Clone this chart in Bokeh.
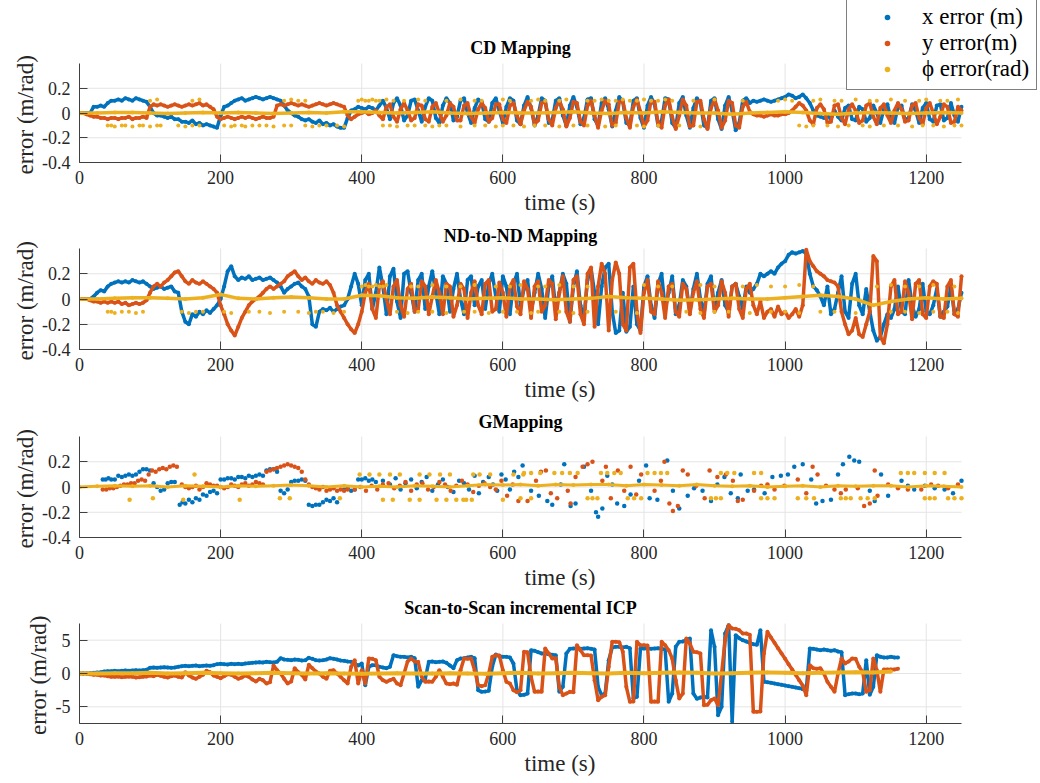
import numpy as np
from bokeh.plotting import figure
from bokeh.layouts import column
from bokeh.models import Range1d, FixedTicker, Legend, LegendItem, Label, Title
from bokeh.embed import file_html
from bokeh.resources import INLINE

BLUE = "#0072BD"
RED = "#D95319"
YEL = "#EDB120"
FONT = "Liberation Serif"
GRID = "#e4e4e4"

x_ticks = [0, 200, 400, 600, 800, 1000, 1200]
x_max = 1250

# ---------------- Panel 1: CD Mapping (values every 5 s) ----------------
cd_x = [
    0, 0, 0, 0, 0.05, 0.05, 0.06, 0.05, 0.08, 0.10,
    0.10, 0.11, 0.10, 0.12, 0.11, 0.10, 0.12, 0.11, 0.10, 0.09,
    0.05, 0.0, -0.02, -0.02, -0.03, -0.04, -0.03, -0.05, -0.05, -0.07,
    -0.07, -0.08, -0.06, -0.09, -0.08, -0.10, -0.09, -0.10, -0.11, -0.12,
    -0.02, 0.05, 0.06, 0.08, 0.10, 0.11, 0.12, 0.10, 0.11, 0.12,
    0.13, 0.12, 0.11, 0.12, 0.13, 0.12, 0.11, 0.10, 0.06, 0.02,
    0.0, -0.02, -0.03, -0.05, -0.06, -0.05, -0.07, -0.08, -0.06, -0.09,
    -0.08, -0.10, -0.09, -0.11, -0.12, -0.12, -0.04, 0.02, 0.03, 0.05,
    0.04, 0.03, 0.05, 0.04, 0.02, 0.06, 0.10, 0.04, -0.05, 0.08,
    0.12, 0.06, -0.06, -0.02, 0.10, 0.11, 0.02, -0.07, 0.05, 0.12,
    0.10, -0.04, -0.08, 0.06, 0.12, 0.08, -0.06, -0.03, 0.10, 0.12,
    0.00, -0.08, 0.04, 0.11, 0.09, -0.05, -0.07, 0.08, 0.12, 0.02,
    -0.08, 0.05, 0.12, 0.10, -0.06, -0.09, 0.06, 0.13, 0.04, -0.10,
    -0.02, 0.12, 0.10, -0.08, -0.06, 0.10, 0.12, -0.02, -0.10, 0.06,
    0.13, 0.05, -0.09, -0.04, 0.11, 0.12, -0.05, -0.10, 0.08, 0.12,
    0.03, -0.11, 0.02, 0.13, 0.09, -0.08, -0.10, 0.10, 0.12, -0.04,
    -0.12, 0.06, 0.13, 0.07, -0.10, -0.06, 0.12, 0.11, -0.08, -0.12,
    0.08, 0.13, -0.02, -0.12, 0.04, 0.12, 0.08, -0.10, -0.12, 0.10,
    0.12, -0.05, -0.13, 0.06, 0.13, 0.02, -0.14, -0.08, 0.10, 0.12,
    0.08, 0.10, 0.09, 0.10, 0.11, 0.10, 0.09, 0.10, 0.11, 0.12,
    0.13, 0.15, 0.14, 0.12, 0.13, 0.15, 0.12, 0.08, 0.02, -0.02,
    -0.03, -0.04, -0.02, -0.05, 0.02, -0.03, -0.06, 0.04, 0.06, -0.05,
    -0.06, 0.05, 0.03, -0.07, -0.04, 0.06, 0.00, -0.08, 0.03, 0.07,
    -0.05, -0.08, 0.05, 0.06, -0.06, -0.04, 0.07, 0.02, -0.08, 0.04,
    0.08, -0.05, -0.07, 0.06, 0.07, -0.06, -0.04, 0.08, -0.02, -0.07,
    0.05,
]
cd_y = [
    0, 0, -0.01, -0.02, -0.03, -0.03, -0.04, -0.04, -0.05, -0.04,
    -0.04, -0.05, -0.04, -0.04, -0.03, -0.05, -0.04, -0.04, -0.03, -0.04,
    0.05, 0.07, 0.06, 0.07, 0.06, 0.05, 0.06, 0.07, 0.06, 0.05,
    0.06, 0.07, 0.06, 0.07, 0.08, 0.06, 0.07, 0.05, 0.03, -0.03,
    -0.05, -0.04, -0.03, -0.04, -0.05, -0.04, -0.03, -0.04, -0.03, -0.04,
    -0.05, -0.04, -0.03, -0.04, -0.04, -0.03, 0.06, 0.07, 0.06, 0.07,
    0.08, 0.07, 0.06, 0.07, 0.06, 0.05, 0.06, 0.07, 0.08, 0.07,
    0.06, 0.07, 0.08, 0.07, 0.06, 0.05, -0.02, -0.05, -0.03, -0.01,
    0.00, 0.01, -0.01, 0.00, 0.02, -0.02, -0.05, 0.05, 0.07, -0.03,
    -0.07, 0.03, 0.08, 0.02, -0.06, -0.04, 0.07, 0.06, -0.05, -0.07,
    0.05, 0.08, 0.00, -0.07, -0.02, 0.08, 0.05, -0.06, -0.06, 0.06,
    0.08, -0.03, -0.08, 0.03, 0.08, 0.04, -0.07, -0.04, 0.07, 0.07,
    -0.05, -0.08, 0.06, 0.08, -0.02, -0.09, 0.02, 0.09, 0.05, -0.09,
    -0.06, 0.08, 0.09, -0.05, -0.10, 0.04, 0.10, 0.03, -0.11, -0.04,
    0.09, 0.08, -0.07, -0.10, 0.06, 0.10, -0.02, -0.12, 0.02, 0.10,
    0.07, -0.10, -0.08, 0.09, 0.10, -0.04, -0.12, 0.05, 0.11, 0.01,
    -0.11, -0.06, 0.10, 0.09, -0.08, -0.12, 0.06, 0.11, -0.03, -0.13,
    -0.02, 0.11, 0.06, -0.11, -0.10, 0.09, 0.10, -0.05, -0.13, 0.04,
    0.11, 0.02, -0.12, -0.06, 0.10, 0.08, -0.10, -0.12, 0.05, 0.09,
    0.01, -0.01, -0.02, -0.02, -0.03, -0.02, -0.01, -0.02, -0.02, -0.01,
    -0.01, 0.00, 0.02, 0.05, 0.08, 0.06, 0.02, -0.06, -0.09, 0.04,
    0.07, 0.03, -0.08, -0.07, 0.06, 0.07, -0.04, -0.09, 0.03, 0.07,
    0.02, -0.08, -0.06, 0.06, 0.08, -0.03, -0.09, 0.04, 0.07, -0.02,
    -0.08, 0.02, 0.08, 0.03, -0.07, -0.06, 0.06, 0.08, -0.04, -0.09,
    0.04, 0.08, 0.00, -0.09, -0.03, 0.07, 0.05, -0.08, -0.07, 0.05,
    0.02,
]
# phi main trace every 25 s
cd_phi = [0, 0, 0.005, 0.005, 0.0, -0.005, 0.0, 0.005, 0.0, 0.005,
          0.0, -0.005, 0.0, 0.005, 0.0, 0.01, 0.01, 0.005, 0.0, 0.005,
          0.01, 0.0, -0.005, 0.0, 0.005, 0.0, 0.0, 0.005, 0.01, 0.0,
          -0.005, 0.005, 0.0, 0.01, 0.005, 0.0, 0.0, -0.01, 0.0, 0.005,
          0.01, 0.005, -0.005, -0.01, 0.0, 0.005, 0.0, -0.005, 0.0, 0.005, 0.0]
cd_phi_band_t = [40, 45, 50, 60, 65, 75, 85, 90, 100, 110, 115, 140, 150, 160, 170, 205, 215, 220, 230, 235,
                 245, 255, 265, 275, 290, 300, 320, 330, 340, 350, 365, 375, 430, 440, 450, 465, 475, 490, 500, 510,
                 520, 540, 560, 575, 590, 600, 615, 630, 645, 660, 680, 700, 720, 745, 760, 790, 800, 820, 850, 880,
                 1020, 1030, 1040, 1060, 1075, 1090, 1110, 1120, 1140, 1160, 1180, 1195, 1210, 1225, 1240, 1250,
                 100, 110, 160, 170, 290, 300, 310, 320, 395, 400, 405, 410, 415, 420, 425, 435, 445, 460, 480, 490,
                 520, 540, 560, 570, 600, 610, 640, 650, 660, 680, 690, 720, 730, 740, 750, 760, 770, 780, 790, 800,
                 810, 820, 830, 840, 870, 900, 940, 990, 1000, 1010, 1040, 1050, 1070, 1080, 1100, 1120, 1130, 1150,
                 1170, 1190, 1200, 1220, 1230, 1245]
cd_phi_band_v = [-0.10, -0.10, -0.11, -0.10, -0.10, -0.11, -0.10, -0.10, -0.11, -0.10, -0.10, -0.10, -0.11, -0.10, -0.10, -0.10, -0.11, -0.10, -0.10, -0.11,
                 -0.10, -0.10, -0.10, -0.11, -0.10, -0.10, -0.10, -0.11, -0.10, -0.10, -0.10, -0.11, -0.10, -0.10, -0.11, -0.10, -0.10, -0.10, -0.11, -0.10,
                 -0.10, -0.11, -0.10, -0.10, -0.11, -0.10, -0.10, -0.11, -0.10, -0.10, -0.11, -0.10, -0.10, -0.11, -0.10, -0.10, -0.11, -0.10, -0.10, -0.11,
                 -0.10, -0.11, -0.10, -0.10, -0.11, -0.10, -0.10, -0.11, -0.10, -0.10, -0.11, -0.10, -0.10, -0.11, -0.10, -0.10,
                 0.10, 0.11, 0.10, 0.11, 0.10, 0.11, 0.10, 0.10, 0.10, 0.11, 0.10, 0.10, 0.11, 0.10, 0.10, 0.11, 0.10, 0.10, 0.11, 0.10,
                 0.10, 0.11, 0.10, 0.10, 0.11, 0.10, 0.10, 0.11, 0.10, 0.10, 0.11, 0.10, 0.10, 0.11, 0.10, 0.10, 0.11, 0.10, 0.10, 0.11,
                 0.10, 0.10, 0.11, 0.10, 0.10, 0.11, 0.10, 0.10, 0.11, 0.10, 0.10, 0.11, 0.10, 0.10, 0.11, 0.10, 0.10, 0.11,
                 0.10, 0.10, 0.11, 0.10, 0.10, 0.11]

# ---------------- Panel 2: ND-to-ND Mapping (values every 5 s) ----------------
nd_x = [
    0, 0, 0, 0, 0.02, 0.05, 0.07, 0.06, 0.10, 0.12,
    0.13, 0.14, 0.13, 0.14, 0.13, 0.15, 0.14, 0.13, 0.14, 0.12,
    0.10, 0.08, 0.09, 0.10, 0.08, 0.09, 0.10, 0.06, 0.05, -0.10,
    -0.18, -0.20, -0.12, -0.14, -0.10, -0.12, -0.09, -0.11, -0.08, -0.05,
    0.00, 0.10, 0.22, 0.26, 0.18, 0.15, 0.17, 0.16, 0.18, 0.15,
    0.16, 0.17, 0.15, 0.16, 0.17, 0.15, 0.13, 0.10, 0.05, 0.08,
    0.10, 0.12, 0.13, 0.10, 0.08, 0.02, -0.20, -0.22, -0.10, -0.08,
    -0.09, -0.07, -0.10, -0.08, -0.06, -0.05, 0.00, 0.10, 0.20, 0.12,
    -0.05, 0.15, 0.20, -0.08, 0.05, 0.25, 0.10, -0.12, 0.18, 0.24,
    -0.02, -0.15, 0.20, 0.22, 0.05, -0.10, 0.15, 0.20, -0.08, 0.10,
    0.22, 0.05, -0.12, 0.18, 0.12, -0.10, 0.08, 0.20, 0.00, -0.12,
    0.15, 0.18, -0.05, 0.10, 0.15, -0.08, 0.12, 0.20, 0.02, -0.10,
    0.18, 0.10, -0.12, 0.12, 0.20, -0.05, 0.08, 0.15, -0.10, 0.05,
    0.20, 0.08, -0.15, 0.10, 0.18, -0.08, 0.05, 0.20, 0.12, -0.18,
    0.10, 0.22, -0.05, -0.15, 0.15, 0.24, 0.05, -0.20, 0.10, 0.25,
    0.28, -0.10, -0.27, -0.25, 0.05, -0.26, -0.22, 0.10, -0.20, -0.25,
    0.10, 0.18, -0.05, -0.15, 0.12, 0.20, -0.08, 0.05, 0.18, -0.12,
    -0.05, 0.15, 0.10, -0.10, 0.08, 0.20, 0.00, -0.12, 0.12, 0.18,
    -0.08, 0.05, 0.15, -0.05, -0.10, 0.10, 0.12, 0.02, -0.08, 0.10,
    0.05, 0.08, 0.12, 0.20, 0.18, 0.20, 0.22, 0.20, 0.25, 0.28,
    0.30, 0.35, 0.37, 0.36, 0.37, 0.38, 0.36, 0.20, 0.10, 0.07,
    0.02, -0.05, 0.10, -0.12, -0.08, 0.05, 0.18, -0.10, -0.15, 0.12,
    0.20, -0.05, -0.12, 0.08, -0.10, -0.25, -0.33, -0.30, -0.20, -0.12,
    -0.15, -0.08, 0.10, -0.10, -0.12, 0.15, -0.05, -0.14, -0.08, 0.12,
    -0.10, -0.12, -0.05, 0.08, -0.14, -0.10, -0.06, 0.10, -0.12, -0.08,
    0.05,
]
nd_y = [
    0, 0, 0, -0.01, -0.02, -0.02, -0.03, -0.02, -0.03, -0.02,
    -0.03, -0.02, -0.04, -0.03, -0.05, -0.04, -0.03, -0.04, -0.03, -0.01,
    0.05, 0.10, 0.12, 0.10, 0.13, 0.15, 0.18, 0.21, 0.22, 0.18,
    0.14, 0.12, 0.15, 0.13, 0.12, 0.14, 0.12, 0.10, 0.08, 0.05,
    -0.05, -0.12, -0.20, -0.25, -0.29, -0.22, -0.15, -0.10, -0.05, -0.02,
    0.00, 0.02, 0.05, 0.08, 0.10, 0.08, 0.10, 0.12, 0.14, 0.18,
    0.20, 0.22, 0.18, 0.15, 0.17, 0.14, 0.12, 0.15, 0.13, 0.12,
    0.14, 0.11, 0.05, -0.05, -0.10, -0.15, -0.20, -0.24, -0.27, -0.20,
    -0.10, 0.05, 0.12, -0.08, -0.15, 0.10, 0.14, 0.00, -0.12, 0.10,
    0.15, -0.05, -0.14, 0.08, 0.12, -0.10, -0.08, 0.14, 0.10, -0.12,
    0.02, 0.15, 0.05, -0.12, 0.12, 0.10, -0.14, -0.05, 0.12, 0.08,
    -0.15, 0.05, 0.14, -0.05, -0.12, 0.12, 0.15, -0.10, -0.08, 0.13,
    0.05, -0.14, 0.10, 0.15, -0.06, -0.12, 0.14, 0.08, -0.15, 0.10,
    0.14, -0.10, -0.05, 0.15, 0.12, -0.16, 0.05, 0.18, -0.10, -0.18,
    0.15, 0.18, -0.12, -0.20, 0.20, 0.25, -0.22, 0.10, 0.28, 0.20,
    -0.25, 0.15, 0.29, 0.20, -0.20, -0.25, 0.25, 0.28, -0.10, -0.27,
    0.05, 0.15, -0.10, -0.12, 0.14, 0.05, -0.15, 0.10, 0.12, -0.10,
    -0.14, 0.12, 0.08, -0.12, 0.05, 0.14, -0.08, -0.15, 0.10, 0.12,
    -0.10, -0.05, 0.14, 0.05, -0.14, 0.10, 0.12, -0.08, -0.15, 0.08,
    0.12, -0.05, -0.12, -0.02, -0.15, -0.10, -0.08, -0.14, -0.06, -0.12,
    -0.10, -0.15, -0.12, -0.08, -0.14, -0.05, 0.39, 0.30, 0.26, 0.22,
    0.20, 0.18, 0.15, 0.14, 0.13, 0.10, -0.10, -0.20, -0.28, -0.25,
    -0.15, -0.28, -0.30, -0.20, -0.10, 0.34, 0.30, -0.30, -0.35, -0.20,
    0.10, 0.15, -0.12, -0.10, 0.14, 0.05, -0.16, 0.12, 0.15, -0.12,
    -0.15, 0.10, 0.14, 0.12, -0.14, -0.15, 0.10, 0.15, -0.12, -0.14,
    0.18,
]
nd_phi = [0, 0, 0.005, 0.01, 0.01, 0.005, 0.0, 0.01, 0.035, 0.005,
          0.0, 0.01, 0.015, 0.01, 0.0, 0.0, 0.03, 0.025, 0.01, 0.005,
          0.015, 0.01, 0.0, 0.005, 0.01, 0.0, 0.0, -0.005, 0.0, 0.005,
          0.02, 0.01, 0.005, 0.0, -0.01, -0.005, 0.0, 0.005, 0.0, 0.0,
          0.01, 0.02, 0.03, 0.02, 0.0, -0.05, -0.02, 0.0, 0.01, 0.0, 0.005]
nd_phi_band_t = [40, 45, 50, 60, 70, 80, 90, 145, 155, 165, 175, 205, 215, 240, 255, 270, 290, 310, 325, 335,
                 345, 360, 375, 450, 465, 480, 500, 520, 545, 560, 580, 600, 620, 640, 650, 680, 700, 720, 760, 790,
                 860, 880, 900, 920, 950, 980, 1000, 1020, 1050, 1070, 1100, 1150, 1170, 1190, 1210, 1230, 1245,
                 400, 405, 410, 415, 420, 425, 430, 435, 470, 480, 500, 520, 540, 560, 590, 610, 625, 650, 660, 680,
                 700, 720, 800, 820, 840, 880, 900, 940, 960, 980, 1000, 1020, 1040, 1130, 1150, 1170, 1190, 1210, 1240]
nd_phi_band_v = [-0.10, -0.10, -0.11, -0.10, -0.10, -0.11, -0.10, -0.10, -0.11, -0.10, -0.10, -0.10, -0.11, -0.10, -0.10, -0.11, -0.10, -0.10, -0.11, -0.10,
                 -0.10, -0.11, -0.10, -0.10, -0.11, -0.10, -0.10, -0.11, -0.10, -0.10, -0.11, -0.10, -0.10, -0.11, -0.10, -0.10, -0.11, -0.10, -0.10, -0.11,
                 -0.10, -0.11, -0.10, -0.10, -0.11, -0.10, -0.10, -0.11, -0.10, -0.10, -0.11, -0.10, -0.10, -0.11, -0.10, -0.10, -0.11,
                 0.10, 0.11, 0.10, 0.10, 0.11, 0.10, 0.10, 0.11, 0.10, 0.10, 0.11, 0.10, 0.10, 0.11, 0.10, 0.10, 0.11, 0.10, 0.10, 0.11,
                 0.10, 0.10, 0.11, 0.10, 0.10, 0.11, 0.10, 0.10, 0.11, 0.10, 0.10, 0.11, 0.10, 0.10, 0.11, 0.10, 0.10, 0.11, 0.10]

# ---------------- Panel 3: GMapping (individual points) ----------------
gm_x_t = [33, 37, 41, 45, 50, 55, 60, 65, 70, 75, 80, 85, 90, 95, 100, 105, 110, 115, 120, 125,
          130, 135, 142, 146, 150, 155, 160, 165, 170, 175, 180, 185, 190, 195, 200, 205, 210, 215, 220, 225,
          230, 235, 240, 245, 250, 255, 260, 265, 270, 275, 280, 285, 290, 295, 300, 305, 310, 315, 320, 325,
          330, 335, 340, 345, 350, 355, 360, 365, 375, 380, 385, 390, 395, 400, 405, 410, 415, 420, 430, 440,
          448, 455, 462, 470, 478, 485, 492, 500, 508, 515, 522, 530, 538, 545, 552, 560, 566, 572, 580, 586,
          592, 598, 604, 610, 616, 622, 628, 640, 651, 663, 670, 682, 687, 696, 703, 715, 725, 732, 735, 741,
          748, 755, 762, 772, 781, 793, 803, 808, 819, 833, 841, 850, 862, 871, 883, 895, 904, 914, 923, 933,
          937, 947, 956, 971, 982, 994, 1004, 1013, 1025, 1037, 1044, 1053, 1065, 1075, 1082, 1091, 1098, 1105, 1120, 1127,
          1136, 1146, 1165, 1174, 1183, 1198, 1212, 1226, 1238, 1250]
gm_x_v = [0.06, 0.06, 0.07, 0.06, 0.06, 0.09, 0.08, 0.09, 0.10, 0.09, 0.10, 0.12, 0.14, 0.14, 0.13, 0.03, 0.0, -0.03, -0.02, 0.03,
          0.04, 0.04, -0.14, -0.12, -0.13, -0.10, -0.12, -0.09, -0.10, -0.06, -0.07, -0.04, -0.03, -0.05, 0.06, 0.06, 0.07, 0.07, 0.06, 0.08,
          0.08, 0.07, 0.09, 0.08, 0.09, 0.10, 0.09, 0.13, 0.14, 0.14, 0.12, -0.03, -0.05, -0.02, 0.04, 0.05, 0.05, 0.06, 0.05, -0.14,
          -0.15, -0.14, -0.14, -0.12, -0.10, -0.11, -0.09, -0.12, -0.02, -0.01, -0.03, -0.02, 0.06, 0.06, 0.07, 0.05, 0.06, 0.04, 0.05, 0.02,
          0.07, -0.02, 0.03, 0.06, -0.01, 0.04, 0.08, -0.03, 0.02, 0.06, 0.00, -0.04, 0.05, 0.03, -0.02, 0.09, -0.05, 0.04, 0.08, 0.02,
          -0.03, 0.10, 0.06, -0.02, 0.12, 0.08, 0.17, -0.03, -0.07, -0.11, -0.14, 0.02, 0.18, -0.15, -0.13, 0.16, -0.03, -0.20, -0.235, -0.17,
          0.09, 0.02, -0.13, -0.15, -0.06, 0.05, 0.17, -0.09, -0.10, 0.21, -0.03, -0.17, -0.07, -0.01, -0.03, -0.11, 0.02, 0.08, -0.05, -0.09,
          0.10, -0.03, -0.02, -0.05, 0.08, 0.09, 0.10, 0.16, 0.18, 0.06, -0.13, -0.11, -0.10, 0.10, 0.18, 0.24, 0.21, 0.20, -0.03, -0.11,
          0.10, -0.07, 0.05, 0.01, -0.02, 0.01, -0.01, -0.02, -0.05, 0.05]
gm_y_t = [33, 38, 43, 48, 53, 58, 63, 68, 73, 78, 83, 88, 93, 98, 103, 108, 113, 118, 123, 128,
          133, 138, 145, 150, 155, 160, 165, 170, 175, 180, 185, 190, 195, 200, 205, 210, 215, 220, 225, 230,
          235, 240, 245, 250, 255, 260, 265, 270, 275, 280, 285, 290, 295, 300, 305, 310, 315, 320, 325, 330,
          335, 340, 345, 350, 355, 360, 365, 370, 375, 380, 390, 398, 406, 414, 422, 430, 438, 446, 454, 462,
          470, 478, 486, 494, 502, 510, 518, 526, 534, 542, 550, 558, 566, 574, 582, 590, 598, 606, 614, 622,
          635, 647, 654, 661, 668, 677, 692, 696, 703, 713, 720, 727, 741, 746, 753, 763, 772, 781, 789, 796,
          815, 824, 829, 836, 841, 848, 855, 862, 874, 886, 893, 904, 916, 926, 933, 940, 956, 966, 975, 985,
          999, 1018, 1030, 1039, 1046, 1058, 1070, 1079, 1086, 1103, 1112, 1120, 1127, 1131, 1146, 1160, 1174, 1193, 1207, 1217,
          1231, 1245]
gm_y_v = [-0.02, -0.02, -0.01, -0.01, 0.0, 0.01, 0.02, 0.02, 0.03, 0.03, 0.05, 0.06, 0.05, 0.10, 0.13, 0.12, 0.14, 0.15, 0.14, 0.16,
          0.17, 0.16, 0.02, 0.0, -0.01, 0.0, 0.01, -0.02, 0.0, 0.03, 0.02, 0.01, 0.01, 0.0, -0.01, 0.0, 0.02, 0.01, 0.0, 0.02,
          0.03, 0.01, 0.02, 0.04, 0.03, 0.02, 0.12, 0.13, 0.14, 0.15, 0.16, 0.17, 0.18, 0.17, 0.16, 0.15, 0.12, 0.06, 0.02, 0.0,
          -0.01, -0.02, 0.0, -0.03, -0.02, -0.01, -0.03, -0.02, -0.03, -0.02, -0.02, 0.0, -0.03, 0.01, -0.02, 0.02, 0.03, -0.01, 0.01, 0.04,
          -0.03, 0.02, 0.03, -0.02, 0.0, 0.04, 0.02, -0.03, 0.01, 0.05, 0.02, -0.04, 0.01, 0.03, 0.0, -0.02, 0.05, -0.07, 0.02, -0.11,
          -0.11, 0.05, 0.12, 0.13, -0.05, -0.09, -0.03, -0.13, 0.08, 0.16, 0.18, 0.20, 0.05, 0.16, -0.09, 0.13, -0.03, 0.16, -0.06, 0.10,
          -0.03, 0.05, 0.20, -0.13, -0.19, -0.15, 0.13, 0.10, 0.01, -0.09, 0.13, 0.08, 0.10, 0.05, -0.11, -0.10, -0.03, 0.01, 0.02, -0.02,
          0.01, 0.06, -0.05, 0.16, 0.10, 0.01, -0.02, -0.05, -0.02, -0.01, -0.15, -0.13, 0.13, -0.07, 0.02, -0.01, -0.02, -0.02, 0.02, 0.01,
          -0.01, 0.02]
gm_phi = [0, 0.005, 0.01, 0.005, 0.01, 0.0, 0.01, 0.005, 0.0, 0.01,
          0.005, 0.01, 0.015, 0.01, 0.0, 0.01, 0.0, 0.005, 0.0, 0.01,
          0.005, 0.0, 0.01, 0.02, 0.015, 0.02, 0.01, 0.02, 0.015, 0.02,
          0.02, 0.01, 0.02, 0.015, 0.01, 0.02, 0.01, 0.005, 0.01, 0.0,
          0.005, 0.01, 0.0, 0.01, 0.005, 0.01, 0.01, 0.0, 0.01, 0.005, 0.0]
gm_phi_band_t = [71, 104, 147, 163, 227, 284, 298, 369,
                 397, 411, 425, 440, 454, 482, 496, 511, 525, 558, 567, 582, 615, 629, 630, 640, 653, 673, 684, 695, 706, 739,
                 748, 758, 767, 805, 815, 824, 833, 909, 918, 928, 956, 966, 1164, 1174, 1183, 1198, 1212, 1226,
                 430, 444, 468, 482, 506, 520, 534, 544, 548, 556, 600, 625, 640, 720, 727, 734, 777, 786, 796, 895,
                 902, 909, 966, 975, 985, 1018, 1030, 1041, 1079, 1086, 1093, 1107, 1117, 1127, 1198, 1205, 1212, 1231, 1240, 1250]
gm_phi_band_v = [-0.10, -0.09, -0.10, 0.10, -0.10, -0.09, -0.09, -0.09,
                 0.10, 0.10, 0.10, 0.10, 0.10, 0.10, 0.10, 0.10, 0.10, 0.10, 0.10, 0.10, 0.10, 0.10, 0.11, 0.11, 0.11, 0.11, 0.11, 0.11, 0.11, 0.11,
                 0.11, 0.11, 0.11, 0.11, 0.11, 0.11, 0.11, 0.11, 0.11, 0.11, 0.11, 0.11, 0.11, 0.11, 0.11, 0.11, 0.11, 0.11,
                 -0.10, -0.10, -0.10, -0.10, -0.10, -0.10, -0.10, -0.10, -0.10, -0.10, -0.10, -0.09, -0.09, -0.09, -0.09, -0.09, -0.09, -0.09, -0.09, -0.09,
                 -0.09, -0.09, -0.09, -0.09, -0.09, -0.09, -0.09, -0.09, -0.09, -0.09, -0.09, -0.09, -0.09, -0.09, -0.09, -0.09, -0.09, -0.09, -0.09, -0.09]

# ---------------- Panel 4: Scan-to-Scan incremental ICP (values every 5 s) ----------------
icp_x = [
    0, 0, 0, 0.05, 0.1, 0.15, 0.2, 0.3, 0.35, 0.35,
    0.4, 0.35, 0.4, 0.45, 0.4, 0.45, 0.5, 0.45, 0.5, 0.55,
    0.85, 0.9, 0.85, 0.9, 0.95, 0.9, 0.85, 0.9, 1.0, 1.1,
    1.15, 1.1, 1.15, 1.2, 1.1, 1.15, 1.2, 1.15, 1.25, 1.4,
    1.45, 1.4, 1.35, 1.45, 1.4, 1.45, 1.4, 1.5, 1.55, 1.6,
    1.65, 1.7, 1.65, 1.75, 1.7, 1.65, 1.75, 2.3, 2.1, 2.05,
    2.0, 2.1, 2.05, 1.95, 2.0, 2.35, 2.2, 2.0, 1.95, 2.0,
    2.1, 2.3, 2.2, 2.1, 1.95, 1.9, 1.8, 1.75, 1.5, 1.2,
    1.5, -1.75, 1.0, 1.25, 1.25, 1.0, 0.9, 0.8, 1.0, 2.75,
    2.6, 2.5, 2.5, 2.4, 2.5, 2.3, -2.0, -1.0, -0.8, 1.75,
    1.8, 1.7, 1.75, 1.8, 1.6, 1.2, 0.8, 2.0, 2.25, 2.3,
    2.4, 2.5, 2.3, -2.5, -2.75, -2.7, -2.6, 1.0, 2.85, 2.6,
    2.5, 2.5, 2.4, 1.5, -2.5, -3.25, -3.2, -3.0, 3.5, 3.4,
    3.2, 3.0, 3.0, 2.9, 2.8, 2.75, -2.75, -2.0, 3.0, 3.7,
    3.75, 3.8, 3.7, 3.75, 3.8, 3.7, 3.6, -2.0, -3.25, -3.0,
    2.0, 3.9, 4.0, 4.0, 3.9, 4.0, 3.8, -3.75, -3.5, 3.7,
    3.75, 3.8, 3.7, 3.75, 3.8, 3.7, 3.6, -4.25, -3.0, 4.0,
    4.75, 4.8, 5.0, 5.25, -3.0, -3.8, -3.6, -3.5, -3.6, 6.5,
    4.0, -6.25, -5.0, 6.0, 7.25, -7.25, 5.75, 5.3, 5.0, 4.8,
    4.6, 4.4, 4.3, 6.5, -1.25, -1.3, -1.4, -1.5, -1.6, -1.7,
    -1.8, -1.9, -2.0, -2.1, -2.2, -2.35, -2.5, 3.75, 3.7, 3.6,
    3.5, 3.6, 3.5, 3.4, 3.5, 3.3, 3.2, -3.25, -3.1, -3.0,
    -3.0, -3.1, -3.0, 2.0, -3.2, -2.0, 2.75, 2.5, 2.4, 2.4,
    2.5, 2.4, 2.4,
]
icp_y = [
    0, 0, 0, -0.1, -0.2, -0.2, -0.3, -0.3, -0.4, -0.5,
    -0.5, -0.45, -0.55, -0.5, -0.45, -0.5, -0.6, -0.55, -0.5, -0.45,
    -0.3, -0.4, -0.2, -0.35, -0.5, -0.6, -0.4, -0.3, -0.5, -0.6,
    0.2, -0.3, -0.6, -0.8, -0.5, -0.2, 0.4, 0.2, -0.3, -0.5,
    -0.7, -0.4, -0.1, -0.2, -0.5, -0.8, -0.6, -0.3, -0.5, -0.9,
    -1.2, -0.8, -1.0, -1.5, -1.3, 1.2, 0.5, 0.0, -0.8, -1.5,
    -1.2, 0.8, 0.2, -0.2, -0.9, 1.3, 0.8, 0.3, 0.0, -0.5,
    -0.8, 0.4, 0.5, 0.0, -0.5, -1.0, -1.5, 1.0, 2.0, -1.5,
    0.5, -1.5, 2.25, 2.2, 2.0, -0.5, -1.0, -1.25, -1.0, -0.8,
    -1.5, -1.75, 0.0, 1.8, 2.25, 1.8, 1.75, -0.5, -1.25, -1.2,
    -1.25, -0.5, 0.5, -0.5, -1.5, -1.6, -1.5, -1.7, 0.5, 2.25,
    2.2, 2.25, 0.5, -1.75, -1.9, -1.75, 0.0, 2.5, 2.75, 2.7,
    0.5, -1.25, -1.5, -2.5, -2.8, -2.5, 3.25, 3.2, -0.5, -2.75,
    -2.7, -2.75, 3.75, 3.0, 2.25, 2.3, -2.0, -3.25, -3.0, -2.75,
    -2.8, 4.25, 3.5, 2.75, 2.75, 2.7, -1.0, -4.0, -3.5, -3.25,
    1.0, 4.75, 4.75, 4.7, 3.25, -2.0, -4.25, -4.2, 4.75, 4.25,
    4.25, 4.2, -4.25, -4.2, -4.25, 4.75, 4.25, 3.5, 2.25, -1.0,
    -3.75, -3.0, 5.25, 4.5, 3.25, 3.2, 3.0, -4.75, -4.7, -4.0,
    -3.75, -4.75, 0.0, 5.0, 7.25, 6.75, 6.7, 6.5, 6.0, 6.0,
    5.8, -5.75, -5.75, -5.7, 3.0, 6.25, 5.4, 4.6, 3.8, 3.0,
    2.2, 1.4, 0.6, -0.2, -1.0, -1.8, -3.25, 1.25, 0.8, 0.7,
    0.8, 0.0, -1.25, -2.0, -2.75, 0.0, 2.25, 1.5, 1.8, 2.25,
    2.2, 1.0, 0.2, -2.75, -2.5, 2.25, 0.5, -2.75, 0.6, 0.6,
    0.6, 0.6, 0.7,
]
icp_phi = [0, 0, 0.05, 0.05, 0.1, 0.0, 0.05, 0.1, 0.05, 0.0,
           0.05, 0.1, 0.05, 0.0, 0.05, 0.0, -0.05, 0.0, 0.05, 0.0,
           0.0, 0.05, 0.0, -0.05, 0.05, 0.1, 0.0, 0.05, 0.1, 0.05,
           0.0, 0.1, 0.05, 0.1, 0.15, 0.1, 0.0, 0.05, 0.1, 0.15,
           0.1, 0.05, 0.1, 0.15, 0.2, 0.15, 0.3]

unit_ticks = [-0.4, -0.2, 0, 0.2]
unit_labels = ["-0.4", "-0.2", "0", "0.2"]
icp_ticks = [-5, 0, 5]
icp_labels = ["-5", "0", "5"]

LEFT = 79          # px, left edge of the axes box
AX_W = 882         # px, width of the axes box
BOTTOM = 60        # px, space below the axes box
YLABEL_LEN = 119   # approx. rendered length of the y label (px)


def make_panel(height, top, ymin, ymax, yticks, ylabels, title, title_y):
    """Figure whose frame also covers the title strip (so that the legend and titles are not clipped)."""
    fb = height - BOTTOM
    ytop = ymax + top * (ymax - ymin) / (fb - top)
    xend = x_max * (1040 - LEFT) / AX_W
    p = figure(width=1040, height=height, x_range=Range1d(0, xend), y_range=Range1d(ymin, ytop),
               output_backend="svg", toolbar_location=None,
               min_border_left=LEFT, min_border_right=0, min_border_top=0, min_border_bottom=BOTTOM)
    p.outline_line_color = None
    p.background_fill_color = "white"
    p.border_fill_color = "white"
    p.grid.visible = False
    # grid lines limited to the axes box
    p.segment(x0=x_ticks, y0=[ymin] * len(x_ticks), x1=x_ticks, y1=[ymax] * len(x_ticks),
              line_color=GRID, line_width=1)
    p.segment(x0=[0] * len(yticks), y0=yticks, x1=[x_max] * len(yticks), y1=yticks,
              line_color=GRID, line_width=1)
    p.xaxis.ticker = FixedTicker(ticks=x_ticks)
    p.yaxis.ticker = FixedTicker(ticks=yticks)
    p.yaxis.major_label_overrides = {t: l for t, l in zip(yticks, ylabels)}
    p.xaxis.bounds = (0, x_max)
    p.yaxis.bounds = (ymin, ymax)
    for ax in (p.xaxis[0], p.yaxis[0]):
        ax.major_tick_in = 8
        ax.major_tick_out = 0
        ax.minor_tick_line_color = None
        ax.axis_line_color = "#404040"
        ax.major_tick_line_color = "#404040"
        ax.major_label_text_font = FONT
        ax.major_label_text_font_size = "18px"
        ax.major_label_text_color = "#262626"
    p.xaxis.axis_label = "time (s)"
    p.xaxis.axis_label_text_font = FONT
    p.xaxis.axis_label_text_font_size = "23px"
    p.xaxis.axis_label_text_font_style = "normal"
    p.xaxis.axis_label_text_color = "#262626"
    p.xaxis.major_label_standoff = 8
    p.xaxis.axis_label_standoff = 3
    p.yaxis.major_label_standoff = 9
    # y label centred on the axes box (not on the whole frame)
    offset = (fb - top) / 2 - YLABEL_LEN / 2 - 2
    p.add_layout(Title(text="error (m/rad)", align="left", offset=offset, standoff=4,
                       text_font=FONT, text_font_size="23px", text_font_style="normal",
                       text_color="#262626"), "left")
    p.add_layout(Label(x=x_max / 2, y=fb - title_y, y_units="screen", text=title,
                       text_font=FONT, text_font_size="18px", text_font_style="bold",
                       text_color="#000000", text_align="center", text_baseline="middle"))
    return p


def trace(p, t, v, color, lw, size):
    p.line(t, v, line_color=color, line_width=lw)
    return p.scatter(t, v, size=size, fill_color=color, line_color=None)


# Panel 1
p1 = make_panel(222, 63, -0.4, 0.4, unit_ticks, unit_labels, "CD Mapping", 47)
rb = trace(p1, np.arange(len(cd_x)) * 5, cd_x, BLUE, 3.5, 4)
rr = trace(p1, np.arange(len(cd_y)) * 5, cd_y, RED, 3.5, 4)
p1.scatter(cd_phi_band_t, cd_phi_band_v, size=4, fill_color=YEL, line_color=None)
ry = trace(p1, np.arange(len(cd_phi)) * 25, cd_phi, YEL, 3.5, 4)

legend = Legend(items=[LegendItem(label="x error (m)", renderers=[rb]),
                       LegendItem(label="y error(m)", renderers=[rr]),
                       LegendItem(label="\u03d5 error(rad)", renderers=[ry])],
                location=(767, 72))
legend.label_text_font = FONT
legend.label_text_font_size = "23px"
legend.label_text_color = "#000000"
legend.border_line_color = "#000000"
legend.border_line_width = 1
legend.background_fill_color = "white"
legend.background_fill_alpha = 1
legend.padding = 7
legend.spacing = 0
legend.margin = 0
legend.glyph_width = 66
legend.glyph_height = 14
legend.label_height = 25
legend.label_standoff = 2
legend.label_width = 106
p1.add_layout(legend, "center")

# Panel 2
p2 = make_panel(187, 26, -0.4, 0.4, unit_ticks, unit_labels, "ND-to-ND Mapping", 13)
trace(p2, np.arange(len(nd_x)) * 5, nd_x, BLUE, 3.5, 4)
trace(p2, np.arange(len(nd_y)) * 5, nd_y, RED, 3.5, 4)
p2.scatter(nd_phi_band_t, nd_phi_band_v, size=4, fill_color=YEL, line_color=None)
trace(p2, np.arange(len(nd_phi)) * 25, nd_phi, YEL, 3.5, 4)

# Panel 3
p3 = make_panel(188, 27, -0.4, 0.4, unit_ticks, unit_labels, "GMapping", 12)
p3.scatter(gm_x_t, gm_x_v, size=4.5, fill_color=BLUE, line_color=None)
p3.scatter(gm_y_t, gm_y_v, size=4.5, fill_color=RED, line_color=None)
p3.scatter(gm_phi_band_t, gm_phi_band_v, size=4.5, fill_color=YEL, line_color=None)
trace(p3, np.arange(len(gm_phi)) * 25, gm_phi, YEL, 3, 4)

# Panel 4
p4 = make_panel(186, 26, -7.5, 7.5, icp_ticks, icp_labels, "Scan-to-Scan incremental ICP", 10)
trace(p4, np.arange(len(icp_x)) * 5, icp_x, BLUE, 3.5, 4)
trace(p4, np.arange(len(icp_y)) * 5, icp_y, RED, 3.5, 4)
trace(p4, np.arange(len(icp_phi)) * 25, icp_phi, YEL, 4, 4)

layout = column(p1, p2, p3, p4, spacing=0)
open("out.html", "w").write(file_html(layout, INLINE))
